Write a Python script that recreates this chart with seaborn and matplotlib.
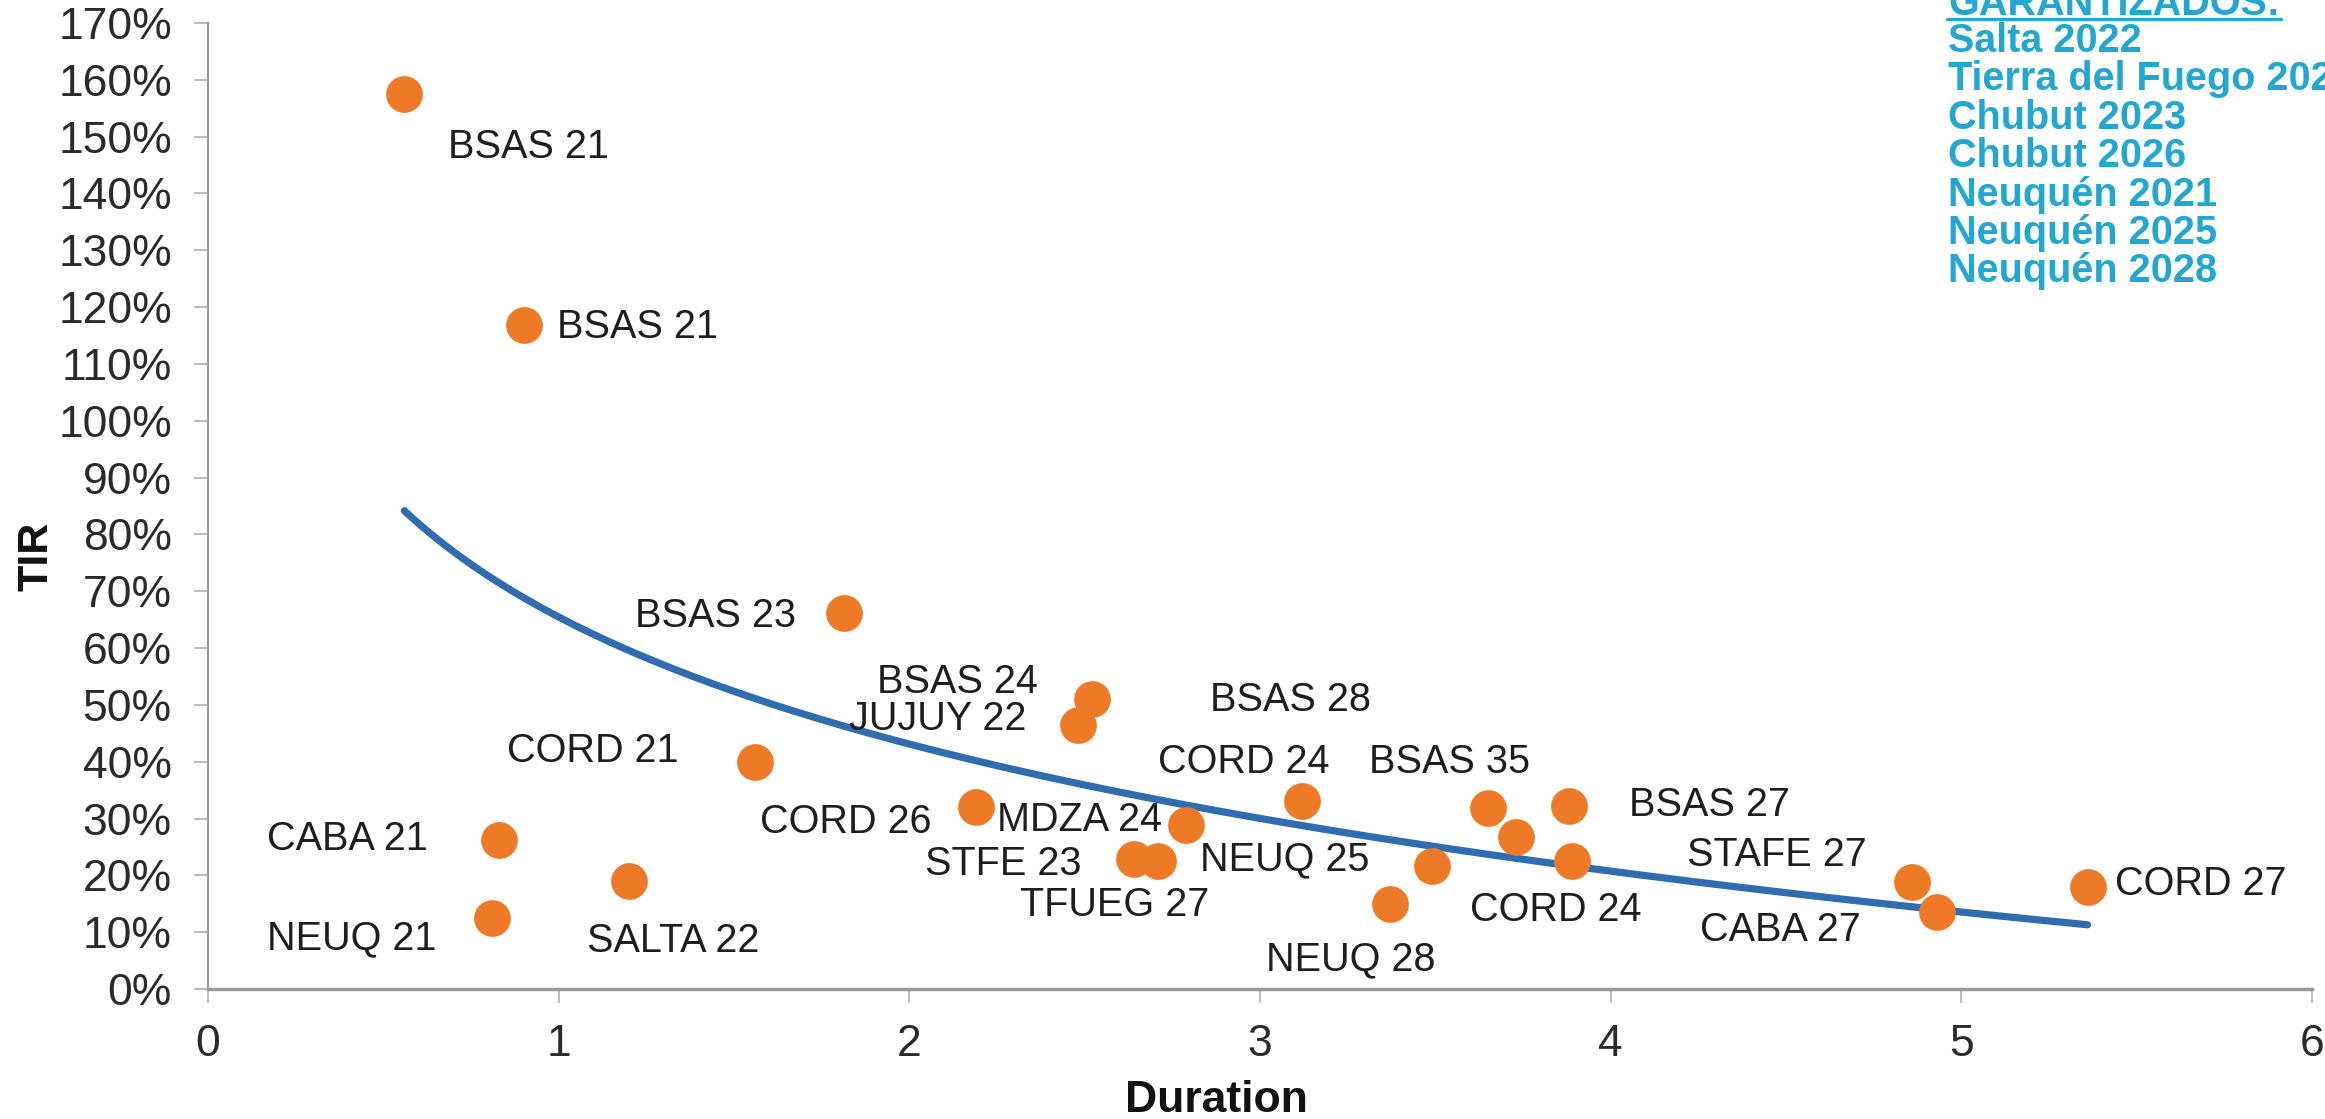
import numpy as np
import pandas as pd
import matplotlib
matplotlib.use("Agg")
import matplotlib.pyplot as plt
from matplotlib.lines import Line2D
from matplotlib.ticker import FuncFormatter
import seaborn as sns

# Provincial bonds: label, modified duration (years) and yield (TIR, %)
issuers = ["BSAS 21", "BSAS 21", "BSAS 23", "CORD 21", "CABA 21", "NEUQ 21", "SALTA 22",
           "CORD 26", "BSAS 24", "JUJUY 22", "MDZA 24", "STFE 23", "TFUEG 27",
           "CORD 24", "NEUQ 25", "NEUQ 28", "BSAS 35", "BSAS 28", "BSAS 27", "CORD 24",
           "STAFE 27", "CABA 27", "CORD 27"]
duration = [0.56, 0.90, 1.815, 1.56, 0.83, 0.81, 1.20,
            2.19, 2.52, 2.48, 2.79, 2.64, 2.71,
            3.12, 3.49, 3.37, 3.65, 3.73, 3.88, 3.89,
            4.86, 4.93, 5.36]
tir = [157.5, 116.9, 66.1, 40.0, 26.3, 12.5, 19.0,
       32.1, 51.1, 46.4, 28.8, 22.9, 22.6,
       33.0, 21.6, 14.9, 31.8, 26.8, 32.2, 22.5,
       18.9, 13.6, 18.0]

x_ticks = [0, 1, 2, 3, 4, 5, 6]
y_ticks = list(range(0, 171, 10))

guaranteed_title = "GARANTIZADOS:"
guaranteed = ["Salta 2022", "Tierra del Fuego 2027", "Chubut 2023", "Chubut 2026",
              "Neuquén 2021", "Neuquén 2025", "Neuquén 2028"]

# Where each bond's name is written (left edge, baseline), in data units
label_anchor = [(0.684, 146.3), (0.994, 114.6), (1.217, 63.7), (0.852, 40.0),
                (0.167, 24.5), (0.167, 6.9), (1.08, 6.5), (1.573, 27.5),
                (1.909, 52.1), (1.829, 45.6), (2.251, 27.8), (2.046, 20.1),
                (2.316, 12.8), (2.709, 38.0), (2.829, 20.8), (3.017, 3.2),
                (3.311, 38.0), (2.857, 48.9), (4.051, 30.4), (3.598, 12.0),
                (4.219, 21.6), (4.256, 8.4), (5.439, 16.6)]

ORANGE = "#EE7A28"
BLUE = "#2F6DB0"
CYAN = "#22A7D3"
AXIS_GREY = "#9a9a9a"
TEXT = "#1e1e1e"

sns.set_theme(style="white")
plt.rcParams["font.family"] = ["Liberation Sans", "DejaVu Sans"]

df = pd.DataFrame({"issuer": issuers, "duration": duration, "tir": tir})

# Logarithmic trend of yield against duration
b, a = np.polyfit(np.log(df["duration"]), df["tir"], 1)
trend_x = np.linspace(df["duration"].min(), df["duration"].max(), 200)
trend = pd.DataFrame({"duration": trend_x, "tir": a + b * np.log(trend_x)})

W, H = 2325, 1119
fig = plt.figure(figsize=(W / 100, H / 100), dpi=100)
ax = fig.add_axes([208 / W, 1 - 989 / H, (2312 - 208) / W, (989 - 23) / H])

sns.lineplot(data=trend, x="duration", y="tir", ax=ax, color=BLUE, linewidth=5.2,
             zorder=2)
sns.scatterplot(data=df, x="duration", y="tir", ax=ax, color=ORANGE, s=700,
                linewidth=0, zorder=3, legend=False)

for name, (lx, ly) in zip(df["issuer"], label_anchor):
    ax.text(lx, ly, name, fontsize=28.5, color=TEXT, ha="left", va="baseline",
            zorder=4)

ax.set_xlim(0, 6)
ax.set_ylim(0, 170)
ax.set_xticks(x_ticks)
ax.set_yticks(y_ticks)
ax.yaxis.set_major_formatter(FuncFormatter(lambda v, _: f"{v:.0f}%"))

for side in ("top", "right"):
    ax.spines[side].set_visible(False)
ax.spines["left"].set_color(AXIS_GREY)
ax.spines["left"].set_linewidth(1.5)
ax.spines["bottom"].set_color(AXIS_GREY)
ax.spines["bottom"].set_linewidth(2.5)

ax.tick_params(axis="both", which="major", direction="out", length=10, width=1.2,
               color="#b0b0b0", labelsize=32, labelcolor="#2a2a2a")
ax.tick_params(axis="y", pad=16, left=True)
ax.tick_params(axis="x", pad=15, bottom=True)

ax.set_xlabel("")
ax.set_ylabel("TIR", fontsize=31, fontweight="bold", color="#111111")
ax.yaxis.label.set_va("center")
ax.yaxis.set_label_coords((36 - 208) / (2312 - 208), (989 - 556) / (989 - 23))
fig.text(1216 / W, 1 - 1112 / H, "Duration", fontsize=32, fontweight="bold",
         color="#111111", ha="center", va="baseline")

# Guaranteed issues note, top right
note_x = 1948 / W
fig.text(note_x, 1 - 15 / H, guaranteed_title, fontsize=28.5, fontweight="bold",
         color=CYAN, ha="left", va="baseline")
fig.add_artist(Line2D([1947 / W, 2281 / W], [1 - 19 / H, 1 - 19 / H],
                      transform=fig.transFigure, color=CYAN, linewidth=2.4))
for i, line in enumerate(guaranteed):
    fig.text(note_x, 1 - (52 + 38.4 * i) / H, line, fontsize=28.5,
             fontweight="bold", color=CYAN, ha="left", va="baseline")

fig.savefig("out.png", dpi=100, facecolor="white")
